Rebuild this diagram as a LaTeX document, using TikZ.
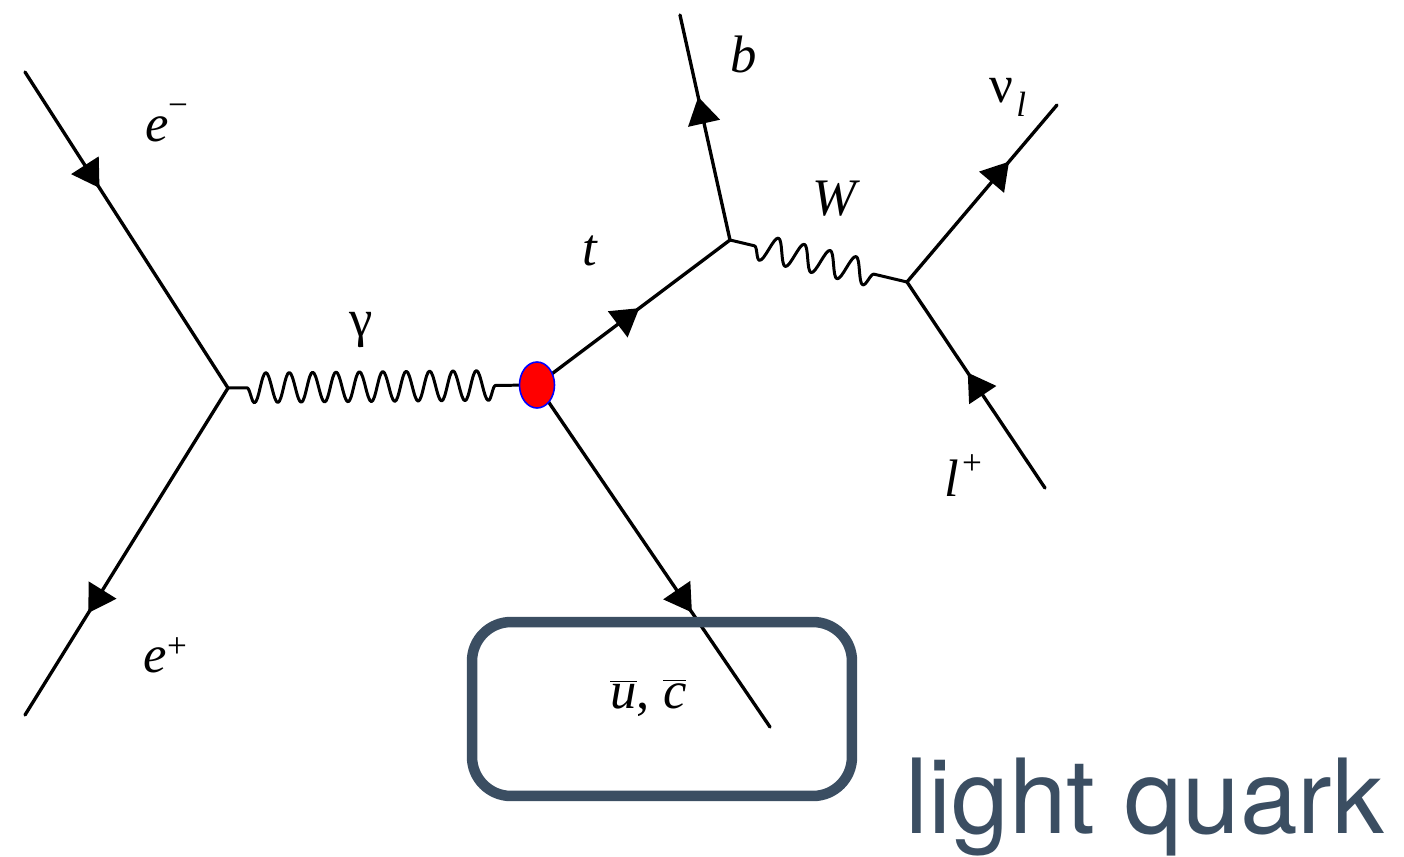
\documentclass[tikz,border=0pt]{standalone}
\usepackage{fontspec}
\setmainfont{Liberation Serif}
\newfontfamily\herosfont{TeX Gyre Heros}
\usetikzlibrary{arrows.meta,decorations.markings,decorations.pathmorphing,shapes.geometric}
\definecolor{boxcol}{HTML}{3B4E62}
\begin{document}
\begin{tikzpicture}[x=0.02cm,y=-0.02cm,
  fermionline/.style={line width=1.9pt, line cap=round, postaction={decorate},
    decoration={markings, mark=at position #1 with {\arrow{Triangle[length=0.54cm,width=0.64cm]}}}},
  photonline/.style={line width=1.7pt, line join=round, decorate,
    decoration={snake, segment length=0.468cm, amplitude=0.3cm, pre length=0.38cm, post length=0.68cm, mirror}},
  wline/.style={line width=1.7pt, line join=round, decorate,
    decoration={snake, segment length=0.532cm, amplitude=0.26cm, pre length=0.5cm, post length=0.49cm, mirror}},
  lbl/.style={font=\fontsize{30}{36}\selectfont, inner sep=0pt, anchor=base west},
  supsc/.style={font=\fontsize{20}{24}\selectfont, inner sep=0pt, anchor=center},
  blobstyle/.style={ellipse, fill=red, draw=blue, line width=0.9pt, minimum width=0.7cm, minimum height=0.92cm, inner sep=0pt},
  qbox/.style={draw=boxcol, line width=0.21cm, rounded corners=0.78cm, minimum width=7.6cm, minimum height=3.48cm, inner sep=0pt},
]
\useasboundingbox (0,0) rectangle (1404,856);
% vertices and ends
\coordinate (v1) at (228,388);
\coordinate (v2) at (730,240);
\coordinate (v3) at (907,282);
\coordinate (em) at (25,72);
\coordinate (ep) at (25,715);
\coordinate (bq) at (680,15);
\coordinate (nu) at (1057,105);
\coordinate (lp) at (1045,488);
\coordinate (qb) at (770,727);
\coordinate (bc) at (537,385);
% lines
\draw[fermionline=0.367] (em) -- (v1);
\draw[fermionline=0.688] (v1) -- (ep);
\draw[photonline] (v1) -- (bc);
\draw[fermionline=0.53] (bc) -- (v2);
\draw[fermionline=0.636] (v2) -- (bq);
\draw[wline] (v2) -- (v3);
\draw[fermionline=0.68] (v3) -- (nu);
\draw[fermionline=0.56] (lp) -- (v3);
\draw[fermionline=0.665] (bc) -- (qb);
\node[blobstyle] (blob) at (bc) {};
% box
\node[qbox] (box) at (662,709) {};
% labels
\node[lbl] (lem) at (145,141) {\textit{e}};
\node[supsc] (lemsup) at (178,110) {−};
\node[lbl] (lep) at (143,672) {\textit{e}};
\node[supsc] (lepsup) at (177,648) {+};
\node[font=\fontsize{30}{36}\selectfont, inner sep=0pt] (lgam) at (361,330) {γ};
\node[lbl] (lt) at (582,265) {\textit{t}};
\node[lbl] (lb) at (730,72) {\textit{b}};
\node[lbl] (lW) at (812,215) {\textit{W}};
\node[lbl] (lnu) at (989,102) {ν};
\node[font=\fontsize{20}{24}\selectfont\itshape, inner sep=0pt, anchor=base west] (lnusub) at (1016,116) {l};
\node[lbl] (ll) at (944,496) {\textit{l}};
\node[supsc] (llsup) at (972,465) {+};
\node[lbl] (lq) at (610,708) {$\overline{\mbox{\textit{u}}}$, $\overline{\mbox{\textit{c}}}$};
\node[font=\herosfont\fontsize{59}{70}\selectfont, text=boxcol, inner sep=0pt, anchor=base west] (lq2) at (905,833) {light quark};
\end{tikzpicture}
\end{document}
